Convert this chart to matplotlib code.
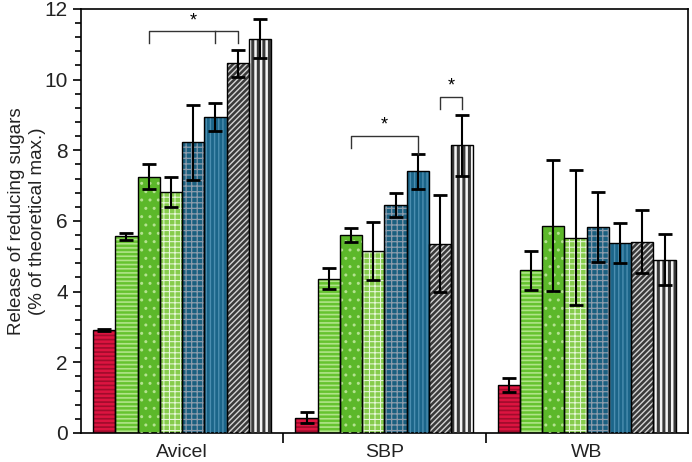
import numpy as np
import matplotlib
matplotlib.use("Agg")
from matplotlib import pyplot as plt

plt.rcParams['font.family'] = ['Liberation Sans', 'DejaVu Sans']

# data
groups = ["Avicel", "SBP", "WB"]
avicel = [2.92, 5.57, 7.25, 6.82, 8.22, 8.94, 10.46, 11.15]
avicel_err = [0.03, 0.10, 0.36, 0.43, 1.07, 0.39, 0.38, 0.55]
sbp = [0.43, 4.37, 5.59, 5.15, 6.45, 7.40, 5.36, 8.14]
sbp_err = [0.16, 0.30, 0.20, 0.81, 0.34, 0.50, 1.36, 0.87]
wb = [1.36, 4.60, 5.87, 5.52, 5.84, 5.37, 5.41, 4.90]
wb_err = [0.20, 0.56, 1.86, 1.91, 0.99, 0.57, 0.89, 0.72]

values = np.array([avicel, sbp, wb])
errors = np.array([avicel_err, sbp_err, wb_err])

# bar look: face colour, hatch, hatch colour, hatch line width
styles = [
    ('#dc1440', '----', '#a00c2c', 1.2),
    ('#66c330', '----', '#b0e488', 1.2),
    ('#5cb82a', '..', '#b4e290', 1.0),
    ('#86cc4c', '+++', '#e8f8da', 0.75),
    ('#1a5f7f', '+++', '#8c9cac', 0.9),
    ('#1b6589', '||||', '#4b8eb0', 1.0),
    ('#3a3a3a', '//////', '#d4d4d4', 1.0),
    ('#f4f4f4', '|||', '#3a3a3a', 2.2),
]

width = 0.110
nb = len(styles)

fig = plt.figure(figsize=(6.92, 4.62), dpi=100)
ax = fig.add_axes([0.117, 0.0628, 0.877, 0.918])

x = np.arange(len(groups))
for k, (fc, hatch, hc, hlw) in enumerate(styles):
    pos = x + (k - (nb - 1) / 2) * width
    ax.bar(pos, values[:, k], width, color=fc, linewidth=0, zorder=2)
    with plt.rc_context({'hatch.linewidth': hlw}):
        ax.bar(pos, values[:, k], width, fill=False, hatch=hatch,
               edgecolor=hc, linewidth=0, zorder=3)
    ax.bar(pos, values[:, k], width, fill=False, edgecolor='black',
           linewidth=1.0, zorder=4)
    ax.errorbar(pos, values[:, k], yerr=errors[:, k], fmt='none',
                ecolor='black', elinewidth=1.5, capsize=5, capthick=2,
                zorder=5)


def bracket(g, i, j, top, legs, mid=None):
    xi = g + (i - (nb - 1) / 2) * width
    xj = g + (j - (nb - 1) / 2) * width
    ax.plot([xi, xi, xj, xj], [legs[0], top, top, legs[1]],
            color='#333333', lw=1.0, zorder=6)
    if mid is not None:
        xm = g + (mid[0] - (nb - 1) / 2) * width
        ax.plot([xm, xm], [top, mid[1]], color='#333333', lw=1.0, zorder=6)
    ax.text((xi + xj) / 2, top + 0.06, '*', ha='center', va='bottom',
            fontsize=13, zorder=6)


bracket(0, 2, 6, 11.37, (11.03, 11.03), mid=(5, 11.03))
bracket(1, 2, 5, 8.41, (8.05, 7.89))
bracket(1, 6, 7, 9.52, (9.18, 9.18))

ax.set_xlim(-0.5, 2.5)
ax.set_ylim(0, 12)
ax.set_yticks(np.arange(0, 13, 2))
ax.set_yticks(np.arange(0, 12.01, 0.4), minor=True)
ax.tick_params(axis='y', which='major', direction='out', length=6,
               width=1.2, labelsize=15, labelcolor='#222222')
ax.tick_params(axis='y', which='minor', direction='out', length=4, width=1.2)

ax.set_xticks([0.5, 1.5], minor=True)
ax.set_xticks(x)
ax.set_xticklabels(groups, fontsize=14, color='#222222')
ax.tick_params(axis='x', which='major', length=0, pad=8)
ax.tick_params(axis='x', which='minor', direction='out', length=7, width=1.2)

for s in ax.spines.values():
    s.set_linewidth(1.2)

ax.set_ylabel("Release of reducing sugars\n(% of theoretical max.)",
              fontsize=13.5, linespacing=1.3, color='#222222')
ax.yaxis.label.set_va('center')
ax.yaxis.set_label_coords(-0.089, 0.5)

fig.savefig("out.png", dpi=100)
